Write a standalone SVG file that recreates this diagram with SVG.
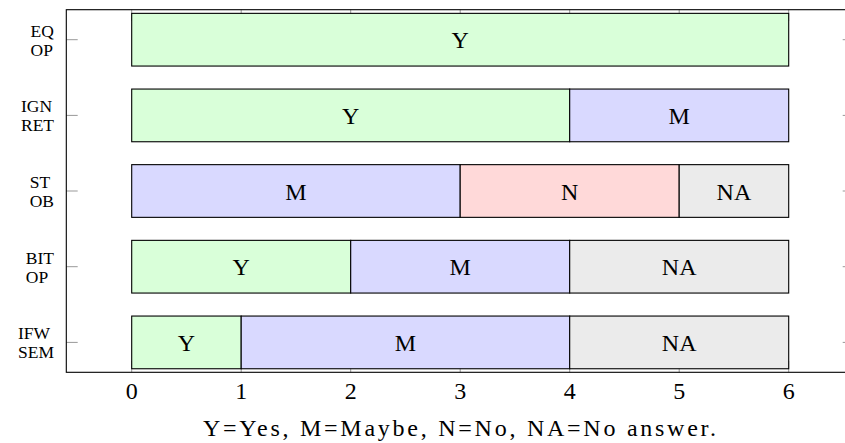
<svg xmlns="http://www.w3.org/2000/svg" width="845" height="443" viewBox="0 0 845 443">
<style>
text{fill:#000}
.lbl{font-size:24px;text-anchor:middle}
.yl{font-size:17.5px}
.bar{stroke:#000;stroke-width:1.1}
.Y{fill:#d9ffd9}.M{fill:#d9d9ff}.N{fill:#ffd9d9}.NA{fill:#ebebeb}
.tick{stroke:#999;stroke-width:1}
</style>
<rect width="845" height="443" fill="#fff"/>
<g font-family="Liberation Serif, Times New Roman, Times, Tinos, Noto Serif, DejaVu Serif, FreeSerif, serif">
<g id="axis">
<g class="tick">
<line x1="66.3" y1="39.7" x2="77.7" y2="39.7"/>
<line x1="66.3" y1="115.4" x2="77.7" y2="115.4"/>
<line x1="66.3" y1="191" x2="77.7" y2="191"/>
<line x1="66.3" y1="266.7" x2="77.7" y2="266.7"/>
<line x1="66.3" y1="342.4" x2="77.7" y2="342.4"/>
<line x1="842.7" y1="39.7" x2="854" y2="39.7"/>
<line x1="842.7" y1="115.4" x2="854" y2="115.4"/>
<line x1="842.7" y1="191" x2="854" y2="191"/>
<line x1="842.7" y1="266.7" x2="854" y2="266.7"/>
<line x1="842.7" y1="342.4" x2="854" y2="342.4"/>
<line x1="131.7" y1="372.3" x2="131.7" y2="361"/>
<line x1="241.2" y1="372.3" x2="241.2" y2="361"/>
<line x1="350.7" y1="372.3" x2="350.7" y2="361"/>
<line x1="460.2" y1="372.3" x2="460.2" y2="361"/>
<line x1="569.7" y1="372.3" x2="569.7" y2="361"/>
<line x1="679.2" y1="372.3" x2="679.2" y2="361"/>
<line x1="788.7" y1="372.3" x2="788.7" y2="361"/>
<line x1="131.7" y1="9.7" x2="131.7" y2="21"/>
<line x1="241.2" y1="9.7" x2="241.2" y2="21"/>
<line x1="350.7" y1="9.7" x2="350.7" y2="21"/>
<line x1="460.2" y1="9.7" x2="460.2" y2="21"/>
<line x1="569.7" y1="9.7" x2="569.7" y2="21"/>
<line x1="679.2" y1="9.7" x2="679.2" y2="21"/>
<line x1="788.7" y1="9.7" x2="788.7" y2="21"/>
</g>
<rect x="66.3" y="9.7" width="788" height="362.6" fill="none" stroke="#000" stroke-width="1.1"/>
<g class="lbl">
<text x="131.7" y="399">0</text>
<text x="241.2" y="399">1</text>
<text x="350.7" y="399">2</text>
<text x="460.2" y="399">3</text>
<text x="569.7" y="399">4</text>
<text x="679.2" y="399">5</text>
<text x="788.7" y="399">6</text>
</g>
<text class="lbl" x="459.5" y="436" textLength="513" lengthAdjust="spacing">Y=Yes, M=Maybe, N=No, NA=No answer.</text>
</g>
<g id="row-eqop">
<text class="yl" x="30.5" y="36.7">EQ</text>
<text class="yl" x="30.5" y="55.7">OP</text>
<rect class="bar Y" x="131.7" y="13.35" width="657" height="52.7"/>
<text class="lbl" x="460.2" y="48.2">Y</text>
</g>
<g id="row-ignret">
<text class="yl" x="21" y="112.4">IGN</text>
<text class="yl" x="21" y="131.4">RET</text>
<rect class="bar Y" x="131.7" y="89.05" width="438" height="52.7"/>
<rect class="bar M" x="569.7" y="89.05" width="219" height="52.7"/>
<text class="lbl" x="350.7" y="123.9">Y</text>
<text class="lbl" x="679.2" y="123.9">M</text>
</g>
<g id="row-stob">
<text class="yl" x="29.7" y="188">ST</text>
<text class="yl" x="29.7" y="207">OB</text>
<rect class="bar M" x="131.7" y="164.65" width="328.5" height="52.7"/>
<rect class="bar N" x="460.2" y="164.65" width="219" height="52.7"/>
<rect class="bar NA" x="679.2" y="164.65" width="109.5" height="52.7"/>
<text class="lbl" x="295.95" y="199.5">M</text>
<text class="lbl" x="569.7" y="199.5">N</text>
<text class="lbl" x="733.95" y="199.5">NA</text>
</g>
<g id="row-bitop">
<text class="yl" x="25.8" y="263.7">BIT</text>
<text class="yl" x="25.8" y="282.7">OP</text>
<rect class="bar Y" x="131.7" y="240.35" width="219" height="52.7"/>
<rect class="bar M" x="350.7" y="240.35" width="219" height="52.7"/>
<rect class="bar NA" x="569.7" y="240.35" width="219" height="52.7"/>
<text class="lbl" x="241.2" y="275.2">Y</text>
<text class="lbl" x="460.2" y="275.2">M</text>
<text class="lbl" x="679.2" y="275.2">NA</text>
</g>
<g id="row-ifwsem">
<text class="yl" x="18" y="339.4">IFW</text>
<text class="yl" x="18" y="358.4">SEM</text>
<rect class="bar Y" x="131.7" y="316.05" width="109.5" height="52.7"/>
<rect class="bar M" x="241.2" y="316.05" width="328.5" height="52.7"/>
<rect class="bar NA" x="569.7" y="316.05" width="219" height="52.7"/>
<text class="lbl" x="186.45" y="350.9">Y</text>
<text class="lbl" x="405.45" y="350.9">M</text>
<text class="lbl" x="679.2" y="350.9">NA</text>
</g>
</g>
</svg>
